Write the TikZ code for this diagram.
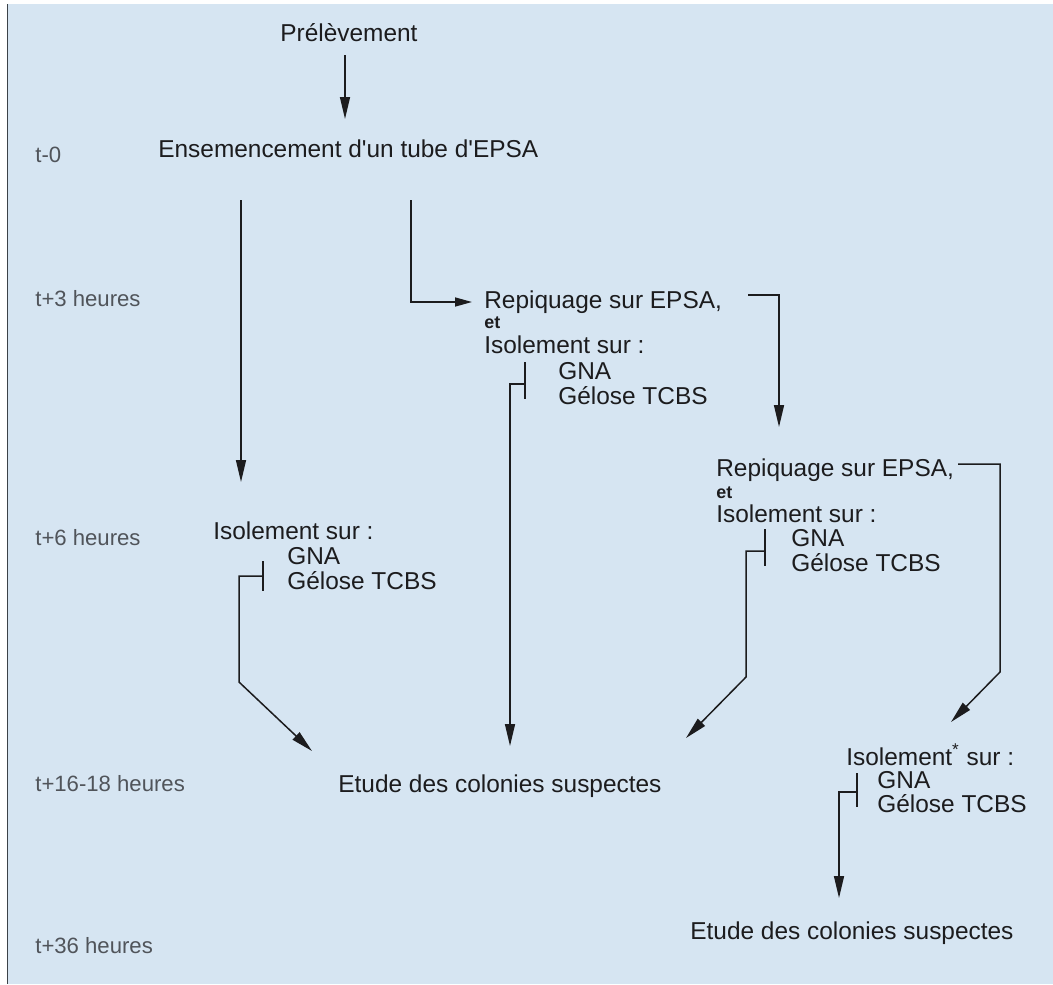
\documentclass[tikz,border=0pt]{standalone}
\usepackage{fontspec}
\newfontfamily\hv{Liberation Sans}
\usetikzlibrary{arrows.meta}
\definecolor{paper}{RGB}{214,229,242}
\definecolor{ink}{RGB}{28,28,30}
\definecolor{tgrey}{RGB}{80,84,90}
\definecolor{edge}{RGB}{60,66,72}
\begin{document}
\begin{tikzpicture}[x=0.02cm,y=-0.02cm,
  txt/.style={anchor=base west, inner sep=0pt, text=ink, font=\hv\fontsize{13.9}{16}\selectfont},
  ctxt/.style={txt, anchor=base},
  small/.style={anchor=base west, inner sep=0pt, text=ink, font=\hv\bfseries\fontsize{10.2}{12}\selectfont},
  time/.style={anchor=base west, inner sep=0pt, text=tgrey, font=\hv\fontsize{12.6}{15}\selectfont},
  conn/.style={draw=ink, line width=0.85pt},
  arr/.style={conn, -{Triangle[length=0.44cm,width=0.2cm]}},
  sarr/.style={conn, -{Triangle[length=0.34cm,width=0.18cm]}}]
\useasboundingbox (0,0) rectangle (1053,984);
\fill[white] (0,0) rectangle (1053,984);
\fill[paper] (7,4) rectangle (1053,984);
\draw[edge, line width=1.1pt] (7.5,4) -- (7.5,984);

% time labels
\node[time] (t0)  at (35,162) {t-0};
\node[time] (t3)  at (35,306) {t+3 heures};
\node[time] (t6)  at (35,545) {t+6 heures};
\node[time] (t16) at (35,791) {t+16-18 heures};
\node[time] (t36) at (35,953) {t+36 heures};

% main texts
\node[ctxt] (prel) at (349,41) {Prélèvement};
\node[txt] (ens) at (158,157) {Ensemencement d'un tube d'EPSA};

\node[txt]   (rep1) at (484,308) {Repiquage sur EPSA,};
\node[small] (et1)  at (484,328) {et};
\node[txt]   (iso1) at (484,353) {Isolement sur :};
\node[txt]   (gna1) at (558,379) {GNA};
\node[txt]   (tcb1) at (558,404) {Gélose TCBS};

\node[txt]   (rep2) at (716,476) {Repiquage sur EPSA,};
\node[small] (et2)  at (716,498) {et};
\node[txt]   (iso2) at (716,522) {Isolement sur :};
\node[txt]   (gna2) at (791,546) {GNA};
\node[txt]   (tcb2) at (791,571) {Gélose TCBS};

\node[txt] (isoL) at (213,539) {Isolement sur :};
\node[txt] (gnaL) at (287,564) {GNA};
\node[txt] (tcbL) at (287,589) {Gélose TCBS};

\node[txt] (etude1) at (338,792) {Etude des colonies suspectes};

\node[txt] (isoR) at (846,765) {Isolement\textsuperscript{*} sur :};
\node[txt] (gnaR) at (877,788) {GNA};
\node[txt] (tcbR) at (877,812) {Gélose TCBS};

\node[txt] (etude2) at (690,939) {Etude des colonies suspectes};

% coordinates
\coordinate (a0) at (345,55);   \coordinate (a1) at (345,119);
\coordinate (b0) at (241,200);  \coordinate (b1) at (241,482);
\coordinate (c0) at (411,200);  \coordinate (c1) at (411,302); \coordinate (c2) at (472,302);
\coordinate (d0) at (748,295);  \coordinate (d1) at (779,295); \coordinate (d2) at (779,427);
\coordinate (e0) at (525,362);  \coordinate (e1) at (525,399);
\coordinate (e2) at (525,384);  \coordinate (e3) at (510,384); \coordinate (e4) at (510,746);
\coordinate (f0) at (958,464);  \coordinate (f1) at (1000,464); \coordinate (f2) at (1000,672); \coordinate (f3) at (951,722);
\coordinate (g0) at (765,529);  \coordinate (g1) at (765,566);
\coordinate (g2) at (765,551);  \coordinate (g3) at (746,551); \coordinate (g4) at (746,677); \coordinate (g5) at (686,738);
\coordinate (h0) at (263,561);  \coordinate (h1) at (263,591);
\coordinate (h2) at (263,576);  \coordinate (h3) at (239,576); \coordinate (h4) at (239,682); \coordinate (h5) at (312,751);
\coordinate (k0) at (857,773);  \coordinate (k1) at (857,807);
\coordinate (k2) at (857,792);  \coordinate (k3) at (839,792); \coordinate (k4) at (839,898);

% connectors
\draw[arr] (a0) -- (a1);
\draw[arr] (b0) -- (b1);
\draw[sarr] (c0) -- (c1) -- (c2);
\draw[arr] (d0) -- (d1) -- (d2);
\draw[conn] (e0) -- (e1);
\draw[arr] (e2) -- (e3) -- (e4);
\draw[arr] (f0) -- (f1) -- (f2) -- (f3);
\draw[conn] (g0) -- (g1);
\draw[arr] (g2) -- (g3) -- (g4) -- (g5);
\draw[conn] (h0) -- (h1);
\draw[arr] (h2) -- (h3) -- (h4) -- (h5);
\draw[conn] (k0) -- (k1);
\draw[arr] (k2) -- (k3) -- (k4);
\end{tikzpicture}
\end{document}
